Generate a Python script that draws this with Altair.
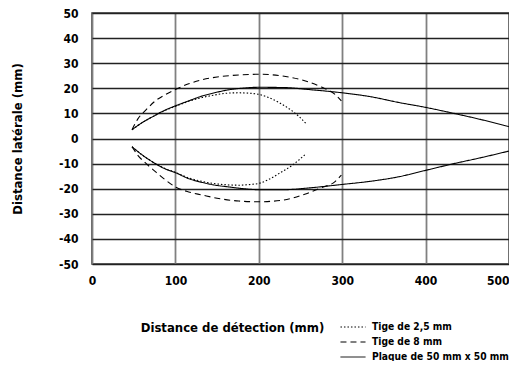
import altair as alt
import pandas as pd

# ---- data ----
series_names = ["Tige de 2,5 mm", "Tige de 8 mm", "Plaque de 50 mm x 50 mm"]

plaque_x = [48, 60, 75, 87, 100, 116, 132, 148, 164, 182, 200, 230, 260, 300, 335, 367, 400, 434, 467, 500]
plaque_up = [3.5, 6.3, 9.1, 11.2, 13, 15, 16.9, 18.3, 19.4, 20.1, 20.4, 20.3, 19.5, 18.2, 16.6, 14.4, 12.4, 10, 7.5, 4.7]
plaque_lo = [-3.3, -6.5, -9.8, -12, -13.6, -16, -17.5, -18.6, -19.3, -20, -20.4, -20.4, -19.7, -18.3, -17, -15.3, -12.7, -10, -7.6, -5]

tige8_x = [48, 55, 65, 76, 88, 100, 116, 132, 150, 176, 200, 228, 256, 275, 291, 299]
tige8_up = [3.5, 7.8, 11.5, 15, 17.5, 19.5, 21.8, 23.4, 24.5, 25.3, 25.6, 24.9, 22.9, 20.5, 17.7, 15]
tige8_lo = [-3.3, -6.7, -10, -13.2, -16.5, -19.3, -21.3, -22.5, -23.8, -24.9, -25.2, -24.6, -22.1, -19.6, -17.3, -14.6]

tige25_x = [48, 60, 75, 87, 100, 116, 132, 150, 164, 176, 190, 200, 212, 224, 232, 240, 249, 257]
tige25_up = [3.5, 6.3, 9.1, 11.1, 12.8, 14.8, 16.3, 17.5, 18.1, 18.2, 18, 17.6, 16.3, 14.4, 12.8, 11, 8.5, 5.8]
tige25_lo = [-3.3, -6.5, -9.8, -11.9, -13.5, -15.7, -17.1, -18.1, -18.5, -18.6, -18.3, -17.9, -16.3, -14, -12.4, -10.7, -8.3, -6]

x_ticks = [0, 100, 200, 300, 400, 500]
y_ticks = [-50, -40, -30, -20, -10, 0, 10, 20, 30, 40, 50]

rows = []
for name, xs, ups, los in [
    (series_names[0], tige25_x, tige25_up, tige25_lo),
    (series_names[1], tige8_x, tige8_up, tige8_lo),
    (series_names[2], plaque_x, plaque_up, plaque_lo),
]:
    for i, (xv, yv) in enumerate(zip(xs, ups)):
        rows.append({"serie": name, "part": name + " haut", "i": i, "x": xv, "y": yv})
    for i, (xv, yv) in enumerate(zip(xs, los)):
        rows.append({"serie": name, "part": name + " bas", "i": i, "x": xv, "y": yv})
df = pd.DataFrame(rows)

FONT = "'DejaVu Sans Condensed', Roboto, sans-serif"

chart = alt.Chart(df).mark_line(color="black", strokeWidth=1.1, interpolate="monotone").encode(
    x=alt.X("x:Q", scale=alt.Scale(domain=[0, 500], nice=False),
            axis=alt.Axis(values=x_ticks, title="Distance de détection (mm)",
                          titleX=140, titleY=67, titleAnchor="middle", titleAlign="center",
                          titleBaseline="alphabetic",
                          labelAlign=alt.expr("datum.value == 500 ? 'right' : 'center'"),
                          labelPadding=11, gridColor="#808080", gridWidth=1.8)),
    y=alt.Y("y:Q", scale=alt.Scale(domain=[-50, 50], nice=False),
            axis=alt.Axis(values=y_ticks, title="Distance latérale (mm)",
                          labelExpr="'' + datum.value", labelPadding=14,
                          titlePadding=34, gridColor="#222222", gridWidth=1.4)),
    strokeDash=alt.StrokeDash("serie:N",
                              scale=alt.Scale(domain=series_names, range=[[1.5, 2], [6, 4], [1, 0]]),
                              legend=alt.Legend(title=None, orient="none", legendX=253, legendY=306,
                                                symbolType="M-1.67,0H1.67", symbolSize=225,
                                                symbolStrokeWidth=1, symbolFillColor="transparent",
                                                symbolStrokeColor="black", labelOffset=11, padding=0,
                                                rowPadding=1, labelFontSize=10.2, labelFont=FONT,
                                                labelFontWeight="bold", labelColor="black", labelLimit=300)),
    detail="part:N",
    order="i:Q",
).properties(
    width=417, height=251,
    autosize=alt.AutoSizeParams(type="none"),
    padding={"left": 84, "top": 5, "right": 0, "bottom": 97},
).configure_axis(
    grid=True, ticks=False, domain=False,
    labelFont=FONT, labelFontWeight="bold", labelFontSize=12, labelColor="black",
    titleFont=FONT, titleFontWeight="bold", titleFontSize=13, titleColor="black",
).configure_view(stroke="#333333", strokeWidth=1.5)

chart.save("out.html", embed_options={"renderer": "svg", "actions": False})
